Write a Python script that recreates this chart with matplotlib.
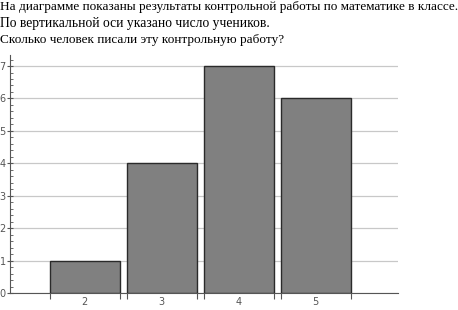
import numpy as np
import matplotlib.pyplot as plt
from matplotlib.ticker import MultipleLocator

# Data
grades = [2, 3, 4, 5]
counts = [1, 4, 7, 6]
question = ["На диаграмме показаны результаты контрольной работы по математике в классе.",
            "По вертикальной оси указано число учеников.",
            "Сколько человек писали эту контрольную работу?"]
line_sizes = [9.5, 9.8, 9.5]

fig = plt.figure(figsize=(4.58, 3.10), dpi=100)

# question text
for i, line in enumerate(question):
    fig.text(0.0, 1 - (7 + i * 16.5) / 310, line, family="Liberation Serif",
             fontsize=line_sizes[i], va="center", ha="left", color="black")

ax = fig.add_axes([10 / 458, 17 / 310, 388 / 458, 238 / 310])
ax.bar(grades, counts, width=0.91, color="#808080", edgecolor="#2a2a2a", linewidth=1.0, zorder=3)

ax.set_xlim(1.03, 6.07)
ax.set_ylim(0, 7.34)
ax.yaxis.set_major_locator(MultipleLocator(1))
ax.yaxis.set_minor_locator(MultipleLocator(0.2))
ax.grid(axis="y", color="#c8c8c8", linewidth=0.9, zorder=0)

# x ticks at bar edges, labels at centers
edges = []
for g in grades:
    edges += [g - 0.455, g + 0.455]
ax.set_xticks(edges)
ax.set_xticklabels([])
ax.set_xticks(grades, minor=True)
ax.set_xticklabels([str(g) for g in grades], minor=True)
ax.tick_params(axis="x", which="major", direction="out", length=4, color="#555555")
ax.tick_params(axis="x", which="minor", length=0, labelsize=7, labelcolor="#555555", pad=3)
ax.tick_params(axis="y", which="major", direction="inout", length=4, color="#555555",
               labelsize=7, labelcolor="#555555", pad=1)
ax.tick_params(axis="y", which="minor", direction="in", length=2, color="#555555")

for s in ["top", "right"]:
    ax.spines[s].set_visible(False)
ax.spines["left"].set_color("#555555")
ax.spines["bottom"].set_color("#555555")

fig.savefig("out.png", dpi=100)
